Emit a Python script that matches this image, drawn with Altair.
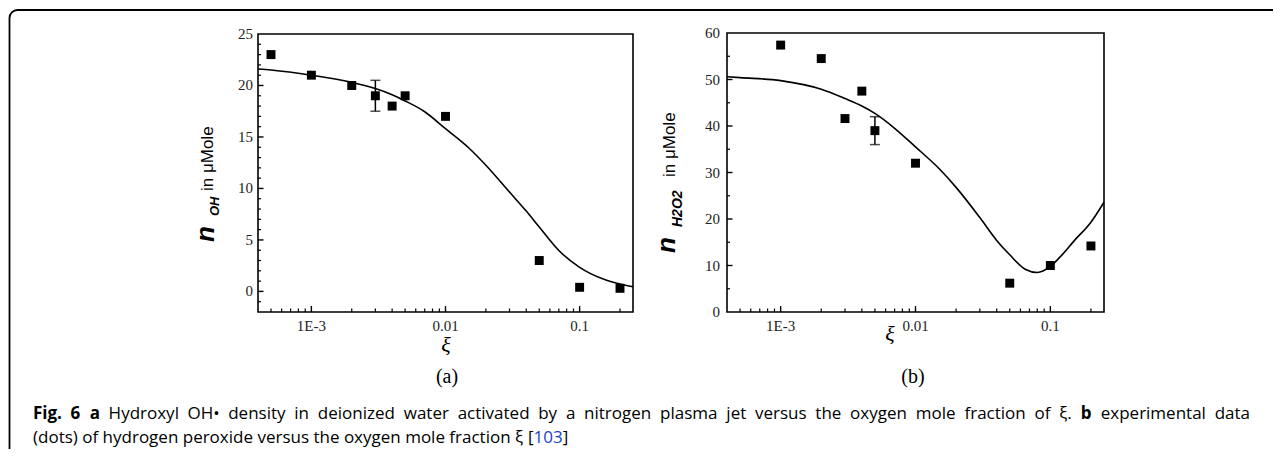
import altair as alt
import pandas as pd

# ---------------- data ----------------
# panel (a): hydroxyl OH density
a_pts_x = [5e-4, 1e-3, 2e-3, 3e-3, 4e-3, 5e-3, 0.01, 0.05, 0.1, 0.2]
a_pts_y = [23.0, 21.0, 20.0, 19.0, 18.0, 19.0, 17.0, 3.0, 0.4, 0.3]
a_err_x = [3e-3]
a_err_lo = [17.5]
a_err_hi = [20.5]
a_fit_x = [4e-4, 5e-4, 1e-3, 2e-3, 3e-3, 4e-3, 5e-3, 7e-3, 0.01, 0.015, 0.02,
           0.03, 0.04, 0.05, 0.07, 0.1, 0.15, 0.2, 0.25]
a_fit_y = [21.6, 21.5, 21.0, 20.3, 19.7, 19.1, 18.5, 17.45, 15.8, 13.9, 12.25,
           9.65, 7.8, 6.25, 3.97, 2.34, 1.2, 0.72, 0.46]

# panel (b): hydrogen peroxide
b_pts_x = [1e-3, 2e-3, 3e-3, 4e-3, 5e-3, 0.01, 0.05, 0.1, 0.2]
b_pts_y = [57.4, 54.5, 41.6, 47.5, 39.0, 32.0, 6.2, 10.0, 14.2]
b_err_x = [5e-3]
b_err_lo = [36.0]
b_err_hi = [42.0]
b_fit_x = [4e-4, 5e-4, 1e-3, 2e-3, 3e-3, 4e-3, 5e-3, 7e-3, 0.01, 0.015, 0.02,
           0.03, 0.04, 0.05, 0.065, 0.08, 0.1, 0.123, 0.15, 0.2, 0.25]
b_fit_y = [50.6, 50.4, 49.75, 47.9, 45.9, 44.3, 42.7, 39.5, 35.5, 30.8, 26.8,
           20.3, 15.4, 12.3, 9.2, 8.5, 9.8, 12.4, 15.3, 19.3, 23.6]

# axes
x_domain = [4e-4, 0.25]
x_major = [1e-3, 1e-2, 0.1]
x_major_labels = ["1E-3", "0.01", "0.1"]
x_minor = [5e-4, 6e-4, 7e-4, 8e-4, 9e-4,
           2e-3, 3e-3, 4e-3, 5e-3, 6e-3, 7e-3, 8e-3, 9e-3,
           2e-2, 3e-2, 4e-2, 5e-2, 6e-2, 7e-2, 8e-2, 9e-2, 0.2]
a_y_domain = [-2, 25]
a_y_major = [0, 5, 10, 15, 20]
a_y_labels = [0, 5, 10, 15, 20, 25]
a_y_minor = [-1, 1, 2, 3, 4, 6, 7, 8, 9, 11, 12, 13, 14, 16, 17, 18, 19, 21, 22, 23, 24]
b_y_domain = [0, 60]
b_y_major = [10, 20, 30, 40, 50]
b_y_labels = [0, 10, 20, 30, 40, 50, 60]
b_y_minor = [5, 15, 25, 35, 45, 55]

# caption: (word, bold)
caption_line1 = [("Fig.", True), ("6", True), ("a", True), ("Hydroxyl", False),
                 ("OH•", False), ("density", False), ("in", False), ("deionized", False),
                 ("water", False), ("activated", False), ("by", False), ("a", False),
                 ("nitrogen", False), ("plasma", False), ("jet", False), ("versus", False),
                 ("the", False), ("oxygen", False), ("mole", False), ("fraction", False),
                 ("of", False), ("ξ.", False), ("b", True), ("experimental", False),
                 ("data", False)]
caption_line2 = "(dots) of hydrogen peroxide versus the oxygen mole fraction ξ"
caption_ref = ["[", "103", "]"]

W, H = 1265, 441
SERIF = "Liberation Serif"
SANS = "Liberation Sans"
CAP = "Open Sans"
CAP_SIZE = 17

# approximate Open Sans advance widths (units per em = 2048) for layout
OS_W = {' ': 532, 'a': 1139, 'b': 1255, 'c': 975, 'd': 1255, 'e': 1149, 'f': 694,
        'g': 1122, 'h': 1257, 'i': 518, 'j': 518, 'k': 1075, 'l': 518, 'm': 1905,
        'n': 1257, 'o': 1237, 'p': 1255, 'q': 1255, 'r': 836, 's': 977, 't': 723,
        'u': 1257, 'v': 1026, 'w': 1593, 'x': 1073, 'y': 1028, 'z': 965, 'H': 1479,
        'O': 1599, 'F': 1061, '.': 545, '(': 590, ')': 590, '[': 664, ']': 664,
        '•': 770, 'ξ': 1000, '0': 1171, '1': 1171, '3': 1171, '6': 1171}


def tw(s, size, bold=False):
    return sum(OS_W.get(c, 1100) for c in s) / 2048 * size * (1.07 if bold else 1.0)


def txt(s, x, y, size, font, color="black", weight="normal", style="normal",
        align="left", baseline="middle", angle=0):
    return alt.Chart(pd.DataFrame({"t": [s]})).mark_text(
        font=font, fontSize=size, color=color, fontWeight=weight,
        fontStyle=style, align=align, baseline=baseline, angle=angle
    ).encode(x=alt.value(x), y=alt.value(y), text="t:N")


def panel(px, py, ex, elo, ehi, fx, fy, ydom, xr, yr, ymaj, ylab, ymin, ylab_x):
    xs = alt.Scale(type="log", domain=x_domain, range=xr, nice=False)
    ys = alt.Scale(domain=ydom, range=yr, nice=False, zero=False)
    X = lambda f="x": alt.X(f"{f}:Q", scale=xs, axis=None)
    Y = lambda f="y": alt.Y(f"{f}:Q", scale=ys, axis=None)
    x0, ybot = xr[0], yr[0]

    frame = alt.Chart(pd.DataFrame({"d": [0]})).mark_rect(
        fillOpacity=0, stroke="black", strokeWidth=1.6
    ).encode(
        x=alt.X(datum=x_domain[0], scale=xs, axis=None), x2=alt.X2(datum=x_domain[1]),
        y=alt.Y(datum=ydom[0], scale=ys, axis=None), y2=alt.Y2(datum=ydom[1]),
    )
    fit = alt.Chart(pd.DataFrame({"x": fx, "y": fy})).mark_line(
        color="black", strokeWidth=1.6, interpolate="monotone"
    ).encode(x=X(), y=Y())
    pts = alt.Chart(pd.DataFrame({"x": px, "y": py})).mark_point(
        shape="square", filled=True, color="black", size=80, opacity=1
    ).encode(x=X(), y=Y())
    edf = pd.DataFrame({"x": ex, "lo": elo, "hi": ehi})
    err = alt.Chart(edf).mark_rule(color="black", strokeWidth=1.5).encode(
        x=X(), y=Y("lo"), y2="hi:Q")
    cap_lo = alt.Chart(edf).mark_tick(color="black", orient="horizontal",
                                      size=10, thickness=1.5).encode(x=X(), y=Y("lo"))
    cap_hi = alt.Chart(edf).mark_tick(color="black", orient="horizontal",
                                      size=10, thickness=1.5).encode(x=X(), y=Y("hi"))

    xmaj = alt.Chart(pd.DataFrame({"x": x_major, "l": x_major_labels}))
    xt_major = xmaj.mark_rule(color="black", strokeWidth=1.4).encode(
        x=X(), y=alt.value(ybot), y2=alt.value(ybot - 6))
    xt_minor = alt.Chart(pd.DataFrame({"x": x_minor})).mark_rule(
        color="black", strokeWidth=1.2).encode(
        x=X(), y=alt.value(ybot), y2=alt.value(ybot - 3.5))
    xl = xmaj.mark_text(font=SERIF, fontSize=15, color="#222", baseline="alphabetic").encode(
        x=X(), y=alt.value(323), text="l:N")
    yt_major = alt.Chart(pd.DataFrame({"y": ymaj})).mark_rule(
        color="black", strokeWidth=1.4).encode(
        y=Y(), x=alt.value(x0), x2=alt.value(x0 + 5.5))
    yt_minor = alt.Chart(pd.DataFrame({"y": ymin})).mark_rule(
        color="black", strokeWidth=1.2).encode(
        y=Y(), x=alt.value(x0), x2=alt.value(x0 + 3))
    yl = alt.Chart(pd.DataFrame({"y": ylab})).mark_text(
        font=SERIF, fontSize=15, color="#222", align="right", baseline="middle").encode(
        y=Y(), x=alt.value(ylab_x), text="y:Q")
    return alt.layer(frame, xt_major, xt_minor, yt_major, yt_minor, fit, err,
                     cap_lo, cap_hi, pts, xl, yl)


panel_a = panel(a_pts_x, a_pts_y, a_err_x, a_err_lo, a_err_hi, a_fit_x, a_fit_y,
                a_y_domain, [250, 625], [304, 26], a_y_major, a_y_labels, a_y_minor, 245)
panel_b = panel(b_pts_x, b_pts_y, b_err_x, b_err_lo, b_err_hi, b_fit_x, b_fit_y,
                b_y_domain, [719, 1096], [304, 25], b_y_major, b_y_labels, b_y_minor, 712)

box = alt.Chart(pd.DataFrame({"d": [0]})).mark_rect(
    fillOpacity=0, stroke="black", strokeWidth=1.8, cornerRadius=8
).encode(x=alt.value(1.5), x2=alt.value(W + 40), y=alt.value(2), y2=alt.value(H + 40))

annots = [
    # y titles panel a
    txt("n", 206, 234, 26, SANS, weight="bold", style="italic", angle=270, baseline="alphabetic"),
    txt("OH", 211, 208, 13, SANS, weight="bold", style="italic", angle=270, baseline="alphabetic"),
    txt("in μMole", 205, 183, 17, SANS, angle=270, baseline="alphabetic"),
    # y titles panel b
    txt("n", 667, 245, 26, SANS, weight="bold", style="italic", angle=270, baseline="alphabetic"),
    txt("H2O2", 674, 219, 14, SANS, weight="bold", style="italic", angle=270, baseline="alphabetic"),
    txt("in μMole", 667, 169, 17, SANS, angle=270, baseline="alphabetic"),
    # x titles
    txt("ξ", 438, 344, 22, SERIF, style="italic", align="center", baseline="alphabetic"),
    txt("ξ", 882, 333, 22, SERIF, style="italic", align="center", baseline="alphabetic"),
    txt("(a)", 439, 369, 20, SERIF, align="center"),
    txt("(b)", 905, 369, 20, SERIF, align="center"),
]

# caption line 1: justified between x=25 and x=1242 (canvas)
L1_X0, L1_X1, L1_Y = 25, 1242, 406
widths = [tw(w, CAP_SIZE, b) for w, b in caption_line1]
gap = (L1_X1 - L1_X0 - sum(widths)) / (len(caption_line1) - 1)
xpos = L1_X0
for (word, bold), wdt in zip(caption_line1, widths):
    annots.append(txt(word, xpos, L1_Y, CAP_SIZE, CAP, weight="bold" if bold else "normal"))
    xpos += wdt + gap

# caption line 2: natural spacing
L2_Y = 430
annots.append(txt(caption_line2, L1_X0, L2_Y, CAP_SIZE, CAP))
xpos = L1_X0 + tw(caption_line2 + " ", CAP_SIZE)
for piece in caption_ref:
    annots.append(txt(piece, xpos, L2_Y, CAP_SIZE, CAP,
                      color="#1a3fd0" if piece == "103" else "black"))
    xpos += tw(piece, CAP_SIZE)

chart = alt.layer(box, panel_a, panel_b, *annots).resolve_scale(
    x="independent", y="independent"
).properties(
    width=W, height=H, autosize=alt.AutoSizeParams(type="none"), padding=0
).configure_view(stroke=None)

chart.save("out.html", embed_options={"renderer": "svg", "actions": False})
